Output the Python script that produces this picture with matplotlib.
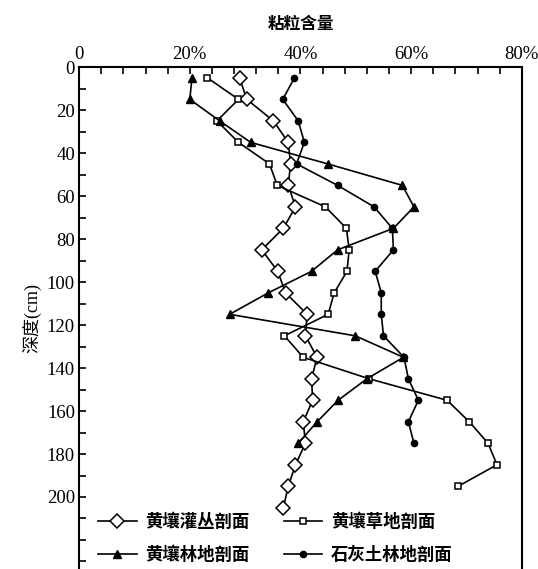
import numpy as np
import matplotlib.pyplot as plt

plt.rcParams['font.family'] = ['Liberation Serif', 'Noto Sans CJK SC']

# depths (cm)
depth_guan = [5, 15, 25, 35, 45, 55, 65, 75, 85, 95, 105, 115, 125, 135, 145, 155, 165, 175, 185, 195, 205]
depth_cao = [5, 15, 25, 35, 45, 55, 65, 75, 85, 95, 105, 115, 125, 135, 145, 155, 165, 175, 185, 195]
depth_lin = [5, 15, 25, 35, 45, 55, 65, 75, 85, 95, 105, 115, 125, 135, 145, 155, 165, 175]
depth_shi = [5, 15, 25, 35, 45, 55, 65, 75, 85, 95, 105, 115, 125, 135, 145, 155, 165, 175]

# clay content (%)
clay_guan = [29.0, 30.3, 35.1, 37.8, 38.2, 37.8, 39.1, 36.9, 33.0, 35.9, 37.3, 41.2, 40.9,
             43.0, 42.0, 42.2, 40.5, 40.9, 39.1, 37.8, 36.9]
clay_cao = [23.2, 28.8, 24.9, 28.8, 34.4, 35.8, 44.5, 48.3, 48.8, 48.4, 46.1, 45.0, 37.1,
            40.5, 52.4, 66.5, 70.5, 73.9, 75.5, 68.5]
clay_lin = [20.4, 20.0, 25.4, 31.0, 44.9, 58.4, 60.5, 56.8, 46.7, 42.0, 34.2, 27.2, 49.9,
            58.6, 52.0, 46.8, 43.0, 39.6]
clay_shi = [38.9, 36.8, 39.6, 40.7, 39.3, 46.7, 53.3, 56.6, 56.8, 53.5, 54.6, 54.6, 55.0,
            58.7, 59.5, 61.3, 59.5, 60.5]

labels = ['黄壤灌丛剖面', '黄壤草地剖面', '黄壤林地剖面', '石灰土林地剖面']

fig = plt.figure(figsize=(5.38, 5.69), dpi=100)
ax = fig.add_axes([0.147, 0.0, 0.823, 0.882])

l1, = ax.plot(clay_guan, depth_guan, '-', color='black', lw=1.2, marker='D', ms=7,
              mfc='white', mec='black', mew=1.1, label=labels[0], zorder=3)
l2, = ax.plot(clay_cao, depth_cao, '-', color='black', lw=1.2, marker='s', ms=5,
              mfc='white', mec='black', mew=1.1, label=labels[1], zorder=3)
l3, = ax.plot(clay_lin, depth_lin, '-', color='black', lw=1.2, marker='^', ms=6,
              mfc='black', mec='black', label=labels[2], zorder=3)
l4, = ax.plot(clay_shi, depth_shi, '-', color='black', lw=1.2, marker='o', ms=4.5,
              mfc='black', mec='black', label=labels[3], zorder=3)

ax.set_xlim(0, 80)
ax.set_ylim(233.5, 0)

ax.xaxis.tick_top()
ax.xaxis.set_label_position('top')
ax.set_xticks([0, 20, 40, 60, 80])
ax.set_xticklabels(['0', '20%', '40%', '60%', '80%'])
ax.set_xticks(np.arange(0, 81, 4), minor=True)
ax.set_yticks(np.arange(0, 201, 20))
ax.set_yticks(np.arange(0, 231, 10), minor=True)

ax.tick_params(which='both', direction='in', length=5, width=1.2, labelsize=13.5, pad=3)
ax.tick_params(axis='x', which='both', top=True, bottom=False)
ax.tick_params(axis='y', which='both', left=True, right=False)

for s in ['top', 'left', 'right']:
    ax.spines[s].set_linewidth(1.5)
ax.spines['bottom'].set_visible(False)

ax.set_xlabel('粘粒含量', family=['Noto Sans CJK SC'], fontsize=12, fontweight='bold', labelpad=12)
ax.set_ylabel('深度(cm)', family=['Liberation Serif', 'Noto Sans CJK SC'], fontsize=13, labelpad=4)

# column-wise fill: put items so rows read 灌丛/草地, 林地/石灰土
leg = ax.legend([l1, l3, l2, l4], [labels[0], labels[2], labels[1], labels[3]],
                loc='lower left', bbox_to_anchor=(0.02, -0.01), ncol=2, frameon=False,
                prop={'family': ['Noto Sans CJK SC'], 'size': 12.5, 'weight': 'bold'},
                handlelength=2.2, handletextpad=0.5, columnspacing=2.0, labelspacing=0.85,
                borderaxespad=0.2)

fig.savefig('out.png', dpi=100)
